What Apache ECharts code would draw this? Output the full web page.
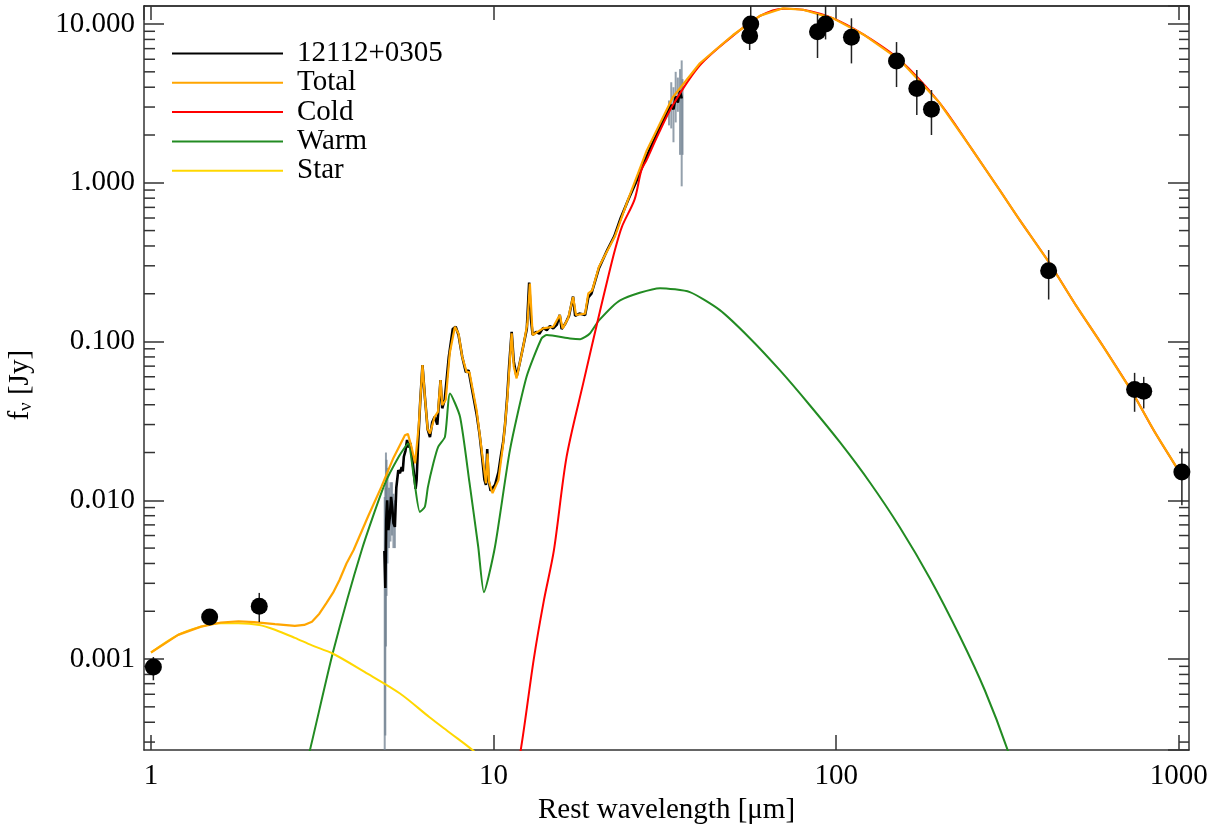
<!DOCTYPE html>
<html><head><meta charset="utf-8">
<script src="https://cdn.jsdelivr.net/npm/echarts@6/dist/echarts.min.js"></script>
<style>html,body{margin:0;padding:0;background:#fff}#c{width:1225px;height:834px}</style>
</head><body><div id="c"></div>
<script>
// ---- axis ranges / tick labels ----
const X_MIN = 0.954, X_MAX = 1071;
const Y_MIN = 2.674e-4, Y_MAX = 12.99;
const xTickLabels = ['1', '10', '100', '1000'];            // exponents 0..3
const yTickLabels = ['0.001', '0.010', '0.100', '1.000', '10.000']; // exponents -3..1
const yMinorTicks = [3e-4,4e-4,5e-4,6e-4,7e-4,8e-4,9e-4,
  2e-3,3e-3,4e-3,5e-3,6e-3,7e-3,8e-3,9e-3,
  0.02,0.03,0.04,0.05,0.06,0.07,0.08,0.09,
  0.2,0.3,0.4,0.5,0.6,0.7,0.8,0.9,
  2,3,4,5,6,7,8,9];

// ---- photometry [wavelength, flux] and error bars [wavelength, lo, hi] ----
const photometry = [[1.016,8.9e-4],[1.483,1.84e-3],[2.07,2.15e-3],[56.3,10.0],[55.9,8.44],
  [88.2,8.94],[93.1,10.0],[110.8,8.25],[150,5.85],[171.9,3.93],[189.7,2.91],
  [417,0.279],[743,0.0499],[790,0.0487],[1021,0.0151]];
const photErrors = [[1.016,7.35e-4,1.03e-3],[1.483,1.7e-3,2.0e-3],[2.07,1.71e-3,2.61e-3],
  [56.3,8.5,14],[55.9,6.86,10],[88.2,6.11,11.56],[93.1,8.0,14],[110.8,5.65,10.87],
  [150,4.01,7.7],[171.9,2.67,5.13],[189.7,2.0,3.84],[417,0.184,0.377],
  [743,0.0361,0.0635],[790,0.0379,0.0599],[1021,9.3e-3,0.0212]];

// ---- IRS spectrum ----
const spectrum = [[4.80,0.0048],[4.83,0.0028],[4.86,0.0075],[4.89,0.0100],[4.93,0.0065],[4.98,0.0079],
  [5.02,0.0105],[5.06,0.0091],[5.10,0.0072],[5.15,0.0068],[5.20,0.0120],[5.27,0.0155],[5.33,0.0148],
  [5.39,0.0162],[5.43,0.0152],[5.47,0.0188],[5.53,0.0205],[5.59,0.0240],[5.65,0.0215],[5.71,0.0230],
  [5.77,0.0197],[5.85,0.0150],[5.92,0.0118],[5.96,0.0134],[6.02,0.0228],[6.10,0.040],[6.20,0.071],
  [6.30,0.045],[6.42,0.028],[6.52,0.025],[6.62,0.031],[6.73,0.0336],[6.85,0.030],[7.00,0.0571],
  [7.08,0.038],[7.20,0.043],[7.40,0.080],[7.60,0.120],[7.75,0.124],[7.90,0.110],[8.10,0.080],
  [8.30,0.064],[8.45,0.066],[8.65,0.050],[8.92,0.035],[9.10,0.026],[9.25,0.019],[9.40,0.0135],
  [9.50,0.0125],[9.58,0.0210],[9.66,0.0135],[9.80,0.0115],[9.93,0.0118],[10.10,0.0125],[10.33,0.0150],
  [10.50,0.019],[10.67,0.0235],[10.80,0.030],[10.96,0.045],[11.10,0.070],[11.29,0.115],[11.45,0.075],
  [11.67,0.060],[11.90,0.072],[12.20,0.093],[12.50,0.120],[12.70,0.235],[12.85,0.140],[13.00,0.110],
  [13.30,0.115],[13.60,0.112],[13.95,0.122],[14.30,0.118],[14.60,0.125],[14.93,0.121],[15.30,0.128],
  [15.60,0.147],[15.80,0.120],[16.20,0.130],[16.60,0.145],[17.06,0.192],[17.30,0.145],[17.80,0.150],
  [18.50,0.147],[18.90,0.190],[19.30,0.200],[20.30,0.290],[21.50,0.380],[22.50,0.460],[23.50,0.600],
  [24.70,0.780],[26.0,1.00],[27.5,1.35],[29.0,1.75],[30.5,2.20],[32.0,2.75],[33.0,3.10],[33.5,2.90],
  [34.0,3.50],[34.5,3.20],[35.0,3.80],[35.4,3.40]];
const spectrumNoise = [[4.81,2.6e-4,0.0105],[4.83,3.3e-4,0.012],[4.85,1.2e-3,0.020],[4.87,2.5e-3,0.018],
  [4.90,4.0e-3,0.016],[4.95,5.0e-3,0.012],[5.00,5.5e-3,0.013],[5.05,6.0e-3,0.013],[5.10,5.0e-3,0.011],
  [5.15,5.0e-3,0.010],[32.5,2.3,3.3],[33.0,2.2,4.3],[33.5,1.8,4.0],[34.0,2.4,5.0],[34.5,2.8,4.6],
  [35.0,1.5,5.2],[35.4,0.95,5.9],[35.6,1.5,4.5]];

// ---- model components ----
const total = [[1.0,1.10e-3],[1.2,1.42e-3],[1.4,1.60e-3],[1.6,1.70e-3],[1.8,1.73e-3],[2.0,1.71e-3],
  [2.3,1.66e-3],[2.63,1.62e-3],[2.8,1.64e-3],[2.95,1.72e-3],[3.1,1.93e-3],[3.25,2.25e-3],[3.4,2.62e-3],
  [3.55,3.15e-3],[3.72,4.0e-3],[3.9,4.85e-3],[4.3,7.9e-3],[4.7,0.0121],[5.1,0.0185],[5.51,0.0257],
  [5.62,0.0262],[5.75,0.022],[5.9,0.0171],[6.05,0.030],
  [6.2,0.071],[6.3,0.045],[6.42,0.028],[6.52,0.0264],[6.73,0.0336],[6.88,0.036],[7.0,0.0571],
  [7.08,0.0397],[7.25,0.043],[7.45,0.085],[7.71,0.124],[7.9,0.112],[8.1,0.080],[8.34,0.0644],
  [8.5,0.064],[8.92,0.037],[9.23,0.0207],[9.5,0.0128],[9.6,0.0197],[9.7,0.013],[9.93,0.0111],
  [10.33,0.0134],[10.67,0.0228],[10.96,0.0427],[11.29,0.1125],[11.45,0.070],[11.67,0.0586],
  [12.2,0.0926],[12.55,0.130],[12.76,0.232],[13.0,0.110],[13.95,0.121],[14.93,0.124],[15.6,0.147],
  [15.9,0.121],[16.5,0.140],[17.06,0.191],[17.4,0.147],[18.5,0.150],[18.9,0.201],[19.4,0.210],
  [20.3,0.296],[22.6,0.460],[24.7,0.786],[28,1.60],[33.4,3.48],[40,5.66],[50,8.53],[60,11.3],
  [70,12.56],[80,12.3],[98,10.86],[120,8.6],[153.4,5.93],[200,3.2],[248,1.647],[300,0.90],
  [343.4,0.582],[417,0.318],[500,0.170],[600,0.094],[735,0.0471],[850,0.027],[1006,0.015]];
const cold = [[11.0,1.0e-4],[12.0,2.67e-4],[13.1,1.0e-3],[14.0,2.3e-3],[15.0,4.85e-3],[16.33,0.01876],
  [18.26,0.0545],[20.42,0.154],[21.5,0.245],[22.6,0.377],[23.7,0.53],[25.8,0.786],[27,1.2],[28,1.40],
  [30,1.95],[33.4,3.10],[40,5.50],[50,8.45],
  [60,11.25],[70,12.5],[80,12.3],[98,10.86],[120,8.6],[153.4,5.93],[200,3.2],[248,1.647],[300,0.90],
  [343.4,0.582],[417,0.318],[500,0.170],[600,0.094],[735,0.0471],[850,0.027],[1006,0.015]];
const warm = [[2.80,2.0e-4],[2.91,2.67e-4],[3.4,1.11e-3],[4.12,4.85e-3],[4.8,0.0125],[5.3,0.019],
  [5.63,0.0228],[5.85,0.014],[6.09,8.45e-3],[6.3,9.1e-3],[6.43,0.0121],[6.67,0.0171],[6.89,0.0217],
  [7.21,0.0251],[7.46,0.0471],[7.98,0.0336],[8.5,0.013],[9.02,5.08e-3],[9.37,2.64e-3],[10.09,5.08e-3],
  [11.16,0.0207],[12.48,0.060],[13.8,0.1046],[14.3,0.110],[16.7,0.1046],[17.9,0.1034],[19.1,0.1125],
  [20.3,0.136],[23.4,0.182],[30.6,0.217],[37.4,0.2048],[45.75,0.1577],[55.97,0.1050],[68.45,0.0660],
  [83.75,0.0397],[102.5,0.02323],[125.3,0.0130],[153.3,6.77e-3],[187.6,3.23e-3],[229.5,1.392e-3],
  [271.5,6.36e-4],[316.8,2.66e-4],[355,1.2e-4]];
const star = [[1.0,1.10e-3],[1.2,1.42e-3],[1.4,1.60e-3],[1.6,1.68e-3],[1.8,1.68e-3],[2.07,1.64e-3],
  [2.3,1.53e-3],[2.63,1.36e-3],[2.95,1.22e-3],[3.4,1.08e-3],[4.2,8.3e-4],[5.33,6.07e-4],[6.5,4.3e-4],
  [7.5,3.4e-4],[8.68,2.67e-4],[9.5,2.2e-4]];

const FONT = 'Liberation Serif';
const FS = 29;
const AXIS_COLOR = '#333';

function isPow10(v){ const l = Math.log10(v); return Math.abs(l - Math.round(l)) < 1e-6; }

const chart = echarts.init(document.getElementById('c'), null, {renderer: 'canvas'});

const vbar = (color, width) => function (params, api) {
  const p1 = api.coord([api.value(0), api.value(1)]);
  const p2 = api.coord([api.value(0), api.value(2)]);
  return {type: 'line', shape: {x1: p1[0], y1: p1[1], x2: p2[0], y2: p2[1]},
          style: {stroke: color, lineWidth: width}};
};

const lineSeries = (name, data, color, width, z, smooth) => ({
  name, type: 'line', data, showSymbol: false, symbol: 'none', smooth: smooth || false,
  color, lineStyle: {color, width}, z, clip: true, silent: true
});

chart.setOption({
  animation: false,
  backgroundColor: '#fff',
  grid: {left: 144, right: 36, top: 6, bottom: 84, containLabel: false, outerBoundsMode: 'none'},
  legend: {
    data: ['12112+0305', 'Total', 'Cold', 'Warm', 'Star'],
    orient: 'vertical', left: 167, top: 34,
    icon: 'rect', itemWidth: 111, itemHeight: 2, itemGap: 0.3,
    textStyle: {fontFamily: FONT, fontSize: FS, color: '#000', lineHeight: 29, padding: [0, 0, 0, 9]},
    selectedMode: false
  },
  xAxis: [{
    type: 'log', logBase: 10, min: X_MIN, max: X_MAX,
    name: 'Rest wavelength [\u03bcm]', nameLocation: 'middle', nameGap: 44,
    nameTextStyle: {fontFamily: FONT, fontSize: FS, color: '#000'},
    axisLine: {show: true, lineStyle: {color: AXIS_COLOR, width: 1.5}},
    axisTick: {show: true, inside: true, length: 15, lineStyle: {color: AXIS_COLOR, width: 1.5}},
    axisLabel: {show: true, margin: 12, fontFamily: FONT, fontSize: FS, color: '#000',
      showMinLabel: false, showMaxLabel: false,
      formatter: v => isPow10(v) ? xTickLabels[Math.round(Math.log10(v))] : ''},
    splitLine: {show: false}, minorTick: {show: false}
  }, {
    type: 'log', logBase: 10, min: X_MIN, max: X_MAX, position: 'top',
    axisLine: {show: true, lineStyle: {color: '#000', width: 1.5}},
    axisTick: {show: true, inside: true, length: 14, lineStyle: {color: AXIS_COLOR, width: 1.5}},
    axisLabel: {show: false}, splitLine: {show: false}
  }],
  yAxis: [{
    type: 'log', logBase: 10, min: Y_MIN, max: Y_MAX,
    name: '{a|f}{b|\u03bd}{a| [Jy]  }', nameLocation: 'middle', nameGap: 108, nameRotate: 90,
    nameTextStyle: {fontFamily: FONT, color: '#000',
      rich: {a: {fontFamily: FONT, fontSize: FS, color: '#000'},
             b: {fontFamily: FONT, fontSize: 19, color: '#000', padding: [12, 0, 0, 0]}}},
    axisLine: {show: true, lineStyle: {color: AXIS_COLOR, width: 1.5}},
    axisTick: {show: true, inside: true, length: 20, lineStyle: {color: AXIS_COLOR, width: 1.5}},
    axisLabel: {show: true, margin: 9, fontFamily: FONT, fontSize: FS, color: '#000',
      showMinLabel: false, showMaxLabel: false,
      formatter: v => isPow10(v) ? yTickLabels[Math.round(Math.log10(v)) + 3] : ''},
    splitLine: {show: false}
  }, {
    type: 'log', logBase: 10, min: Y_MIN, max: Y_MAX, position: 'right',
    axisLine: {show: true, lineStyle: {color: AXIS_COLOR, width: 1.5}},
    axisTick: {show: true, inside: true, length: 21, lineStyle: {color: AXIS_COLOR, width: 1.5}},
    axisLabel: {show: false}, splitLine: {show: false}
  }],
  series: [
    {
      name: 'minorTicks', type: 'custom', silent: true, z: 1,
      data: yMinorTicks.map(v => [1, v]), encode: {x: 0, y: 1},
      renderItem: function (params, api) {
        const y = api.coord([1, api.value(1)])[1];
        const cs = params.coordSys;
        const st = {stroke: AXIS_COLOR, lineWidth: 1.5};
        return {type: 'group', children: [
          {type: 'line', shape: {x1: cs.x, y1: y, x2: cs.x + 11, y2: y}, style: st},
          {type: 'line', shape: {x1: cs.x + cs.width - 10, y1: y, x2: cs.x + cs.width, y2: y}, style: st}
        ]};
      }
    },
    {
      name: 'noise', type: 'custom', silent: true, z: 2, clip: true,
      data: spectrumNoise, encode: {x: 0, y: [1, 2]},
      renderItem: vbar('rgba(112,128,144,0.75)', 2)
    },
    lineSeries('12112+0305', spectrum, '#000000', 2.6, 3),
    lineSeries('Warm', warm, '#228B22', 2, 4, 0.2),
    lineSeries('Star', star, '#FFD700', 2, 4, 0.3),
    lineSeries('Cold', cold, '#FF0000', 2, 5, 0.3),
    lineSeries('Total', total, '#FFA500', 2.2, 6),
    {
      name: 'errors', type: 'custom', silent: true, z: 7, clip: true,
      data: photErrors, encode: {x: 0, y: [1, 2]},
      renderItem: vbar('#222', 1.5)
    },
    {
      name: 'photometry', type: 'scatter', data: photometry, symbol: 'circle', symbolSize: 17,
      itemStyle: {color: '#000', opacity: 1}, z: 8, silent: true
    }
  ]
});
</script>
</body></html>
